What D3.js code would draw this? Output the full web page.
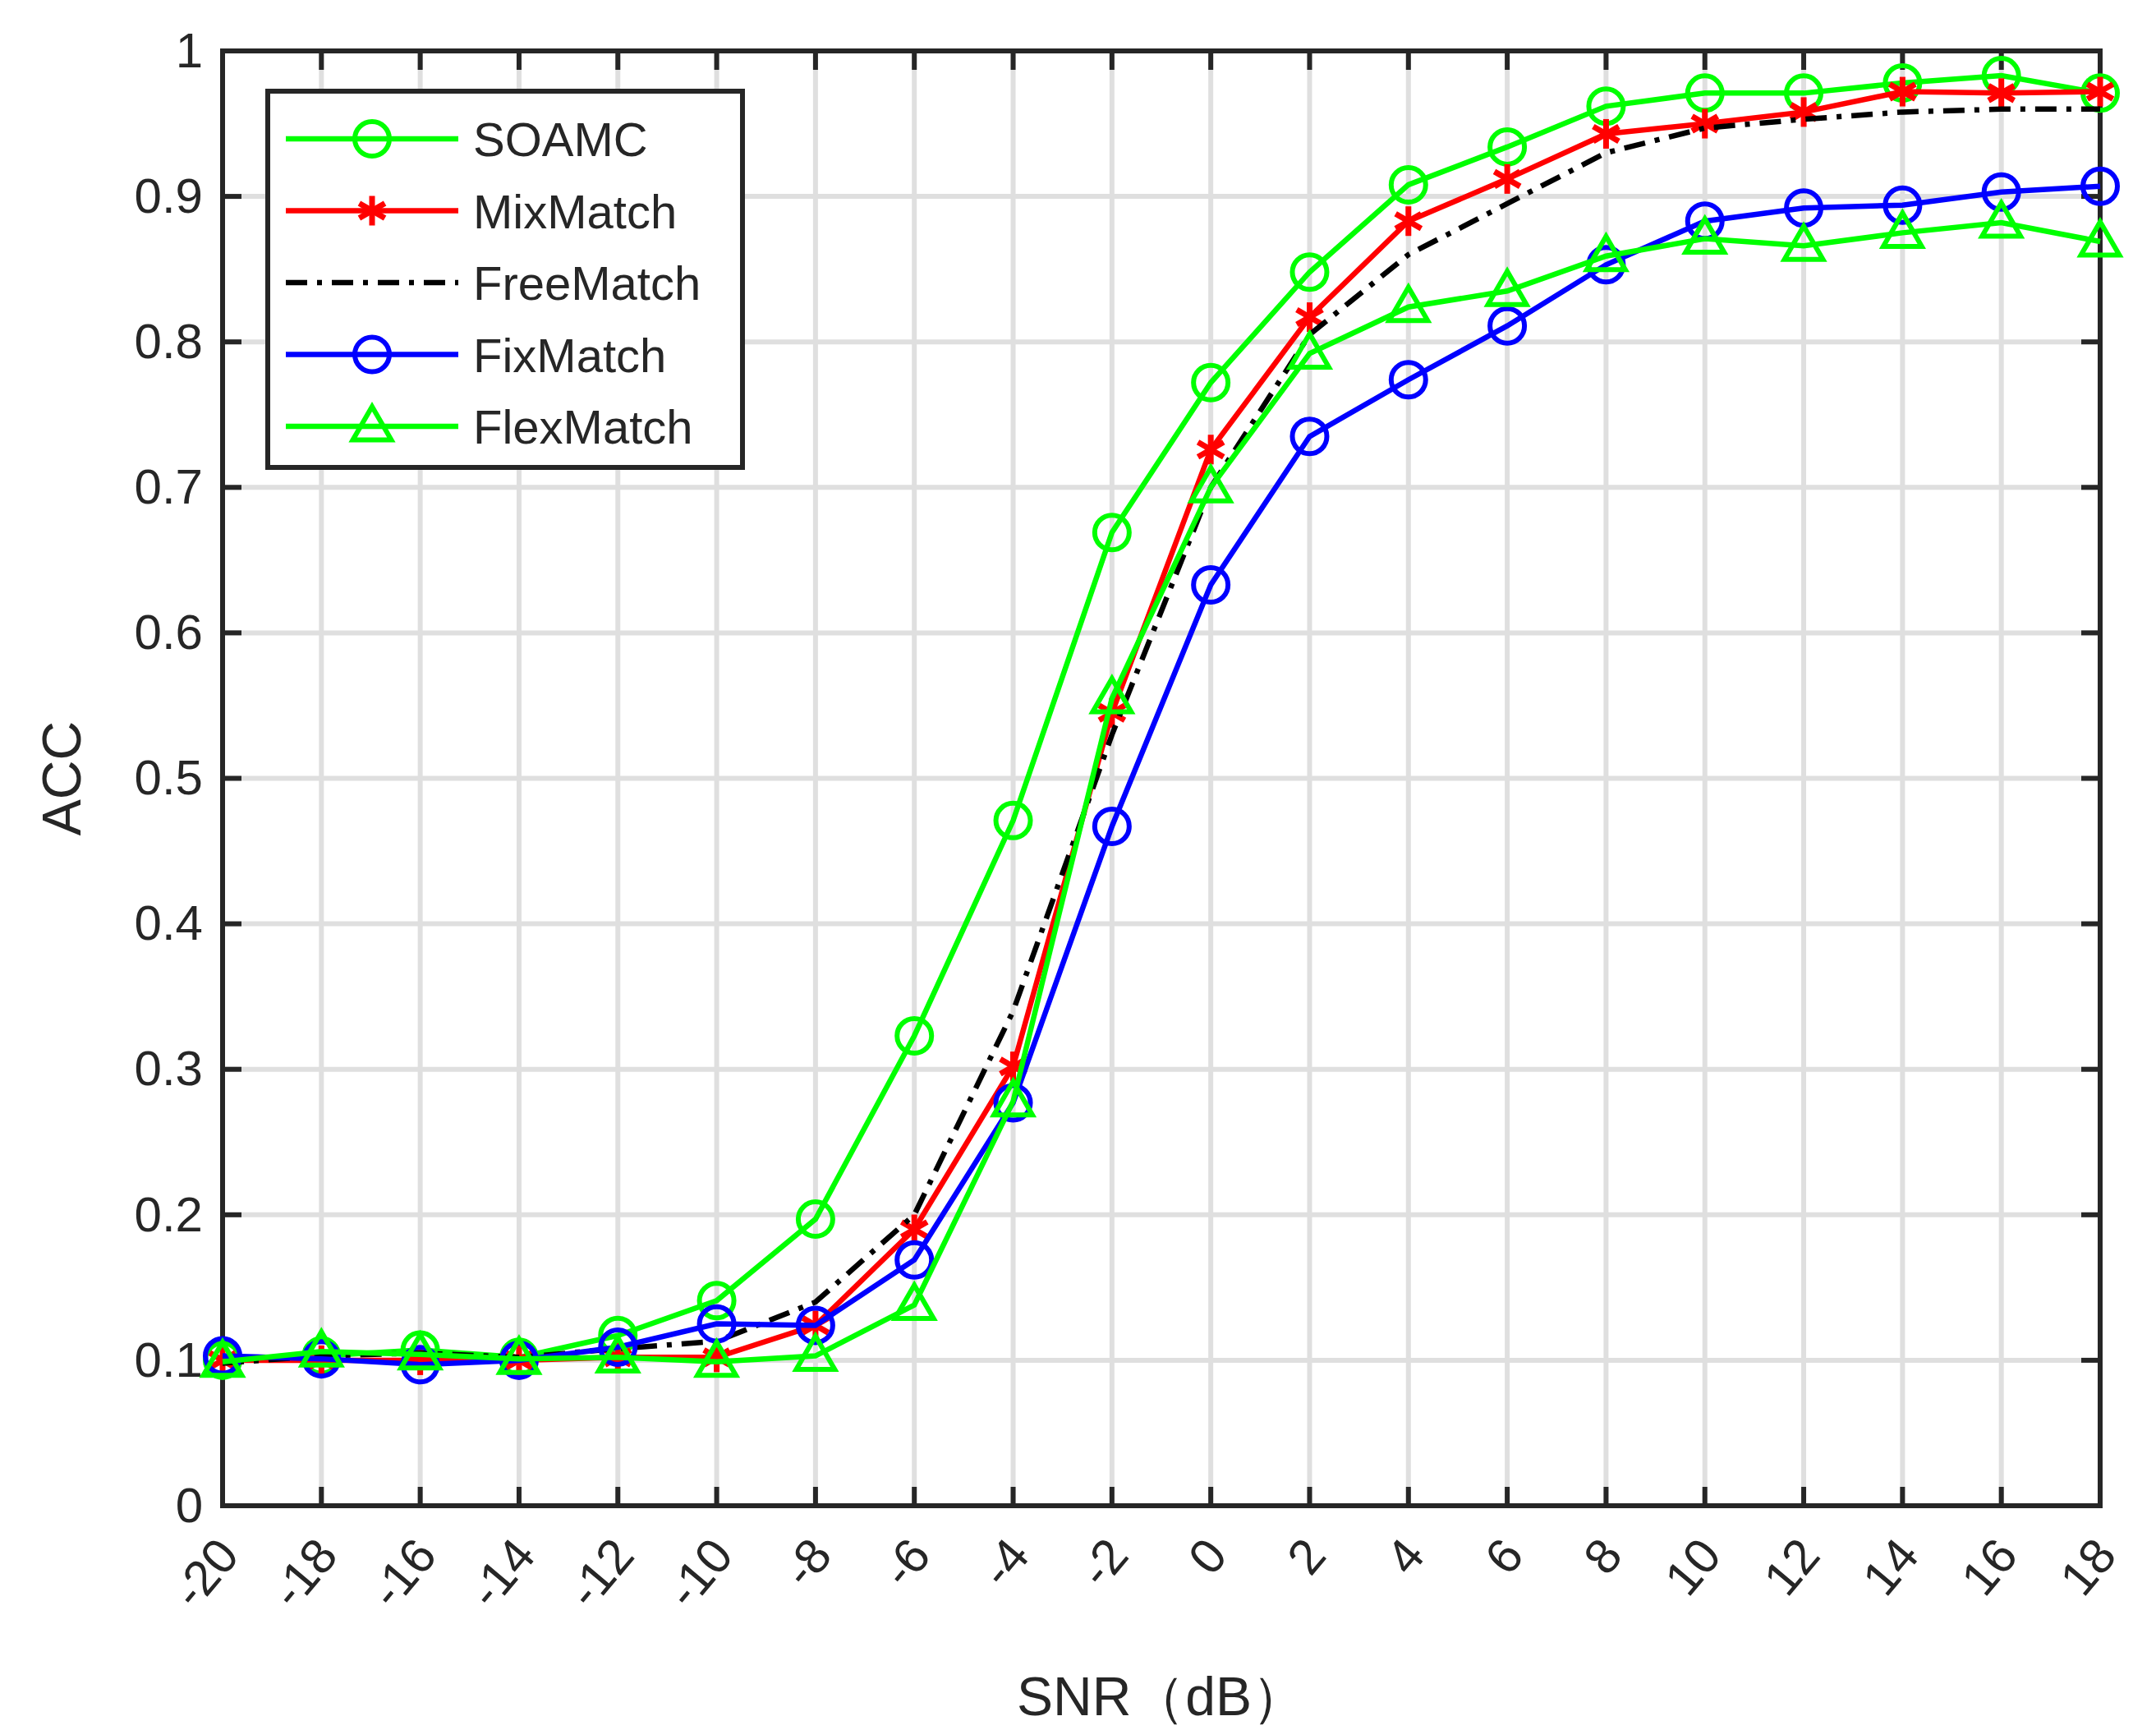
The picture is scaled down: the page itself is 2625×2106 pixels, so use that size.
<!DOCTYPE html>
<html><head><meta charset="utf-8">
<script src="https://cdn.jsdelivr.net/npm/d3@7"></script>
<style>body{margin:0;background:#fff}text{font-family:"Liberation Sans",Arial,sans-serif;fill:#262626}</style>
</head><body>
<svg id="c" width="2625" height="2106"></svg>
<script>
var snr = [-20,-18,-16,-14,-12,-10,-8,-6,-4,-2,0,2,4,6,8,10,12,14,16,18]
var soamc = [0.100,0.103,0.107,0.102,0.117,0.141,0.197,0.323,0.471,0.669,0.772,0.848,0.908,0.934,0.962,0.971,0.971,0.978,0.983,0.971]
var mixmatch = [0.100,0.100,0.100,0.100,0.102,0.102,0.124,0.190,0.302,0.545,0.726,0.817,0.883,0.912,0.943,0.950,0.958,0.972,0.971,0.972]
var freematch = [0.098,0.103,0.105,0.102,0.108,0.113,0.140,0.200,0.340,0.530,0.700,0.805,0.860,0.895,0.930,0.947,0.953,0.958,0.960,0.960]
var fixmatch = [0.103,0.101,0.097,0.100,0.109,0.125,0.124,0.169,0.277,0.467,0.633,0.735,0.774,0.811,0.853,0.883,0.892,0.894,0.903,0.907]
var flexmatch = [0.099,0.106,0.104,0.101,0.102,0.099,0.103,0.138,0.278,0.555,0.700,0.792,0.824,0.835,0.859,0.871,0.866,0.875,0.882,0.869]
var yTicks = [0,0.1,0.2,0.3,0.4,0.5,0.6,0.7,0.8,0.9,1]

var series = [
  {name:'SOAMC', v:soamc, color:'#00ff00', marker:'circle'},
  {name:'MixMatch', v:mixmatch, color:'#ff0000', marker:'star'},
  {name:'FreeMatch', v:freematch, color:'#000000', marker:'none', dash:'26,12,6,12'},
  {name:'FixMatch', v:fixmatch, color:'#0000ff', marker:'circle'},
  {name:'FlexMatch', v:flexmatch, color:'#00ff00', marker:'triangle'}
]

var L = 271, R = 2557, T = 62, B = 1833
var svg = d3.select('#c')
var x = d3.scaleLinear().domain([-20,18]).range([L,R])
var y = d3.scaleLinear().domain([0,1]).range([B,T])

// grid
svg.append('g').selectAll('line').data(snr).enter().append('line')
  .attr('x1', d => x(d)).attr('x2', d => x(d)).attr('y1', T).attr('y2', B)
  .attr('stroke', '#dfdfdf').attr('stroke-width', 6)
svg.append('g').selectAll('line').data(yTicks).enter().append('line')
  .attr('y1', d => y(d)).attr('y2', d => y(d)).attr('x1', L).attr('x2', R)
  .attr('stroke', '#dfdfdf').attr('stroke-width', 6)

// axes
var ax = svg.append('g').attr('transform', 'translate(0,' + B + ')')
  .call(d3.axisBottom(x).tickValues(snr).tickFormat(String).tickSize(0).tickPadding(0))
ax.select('.domain').remove()
ax.selectAll('text').attr('font-size', 60).attr('text-anchor', 'end')
  .attr('dy', 0).attr('transform', 'translate(22,62) rotate(-50)')
var ay = svg.append('g').attr('transform', 'translate(' + L + ',0)')
  .call(d3.axisLeft(y).tickValues(yTicks).tickFormat(d3.format('')).tickSize(0).tickPadding(24))
ay.select('.domain').remove()
ay.selectAll('text').attr('font-size', 60)

// inner ticks
var tk = svg.append('g').attr('stroke', '#262626').attr('stroke-width', 6)
snr.forEach(function (d) {
  tk.append('line').attr('x1', x(d)).attr('x2', x(d)).attr('y1', B).attr('y2', B - 23)
  tk.append('line').attr('x1', x(d)).attr('x2', x(d)).attr('y1', T).attr('y2', T + 23)
})
yTicks.forEach(function (d) {
  tk.append('line').attr('y1', y(d)).attr('y2', y(d)).attr('x1', L).attr('x2', L + 23)
  tk.append('line').attr('y1', y(d)).attr('y2', y(d)).attr('x1', R).attr('x2', R - 23)
})
svg.append('rect').attr('x', L).attr('y', T).attr('width', R - L).attr('height', B - T)
  .attr('fill', 'none').attr('stroke', '#262626').attr('stroke-width', 6)

function drawMarker(g, type, cx, cy, color) {
  if (type === 'circle') {
    g.append('circle').attr('cx', cx).attr('cy', cy).attr('r', 21)
      .attr('fill', 'none').attr('stroke', color).attr('stroke-width', 6)
  } else if (type === 'triangle') {
    g.append('path').attr('d', d3.symbol(d3.symbolTriangle, 950)())
      .attr('transform', 'translate(' + cx + ',' + (cy + 3) + ')')
      .attr('fill', 'none').attr('stroke', color).attr('stroke-width', 6)
  } else if (type === 'star') {
    var r = 18
    ;[0, 60, 120].forEach(function (a) {
      var rad = (a + 90) * Math.PI / 180
      g.append('line').attr('x1', cx - r * Math.cos(rad)).attr('y1', cy - r * Math.sin(rad))
        .attr('x2', cx + r * Math.cos(rad)).attr('y2', cy + r * Math.sin(rad))
        .attr('stroke', color).attr('stroke-width', 7)
    })
  }
}

var line = d3.line().x((d, i) => x(snr[i])).y(d => y(d))
series.forEach(function (s) {
  var g = svg.append('g')
  g.append('path').attr('d', line(s.v)).attr('fill', 'none').attr('stroke', s.color)
    .attr('stroke-width', 6.5).attr('stroke-dasharray', s.dash || null)
  s.v.forEach(function (d, i) { drawMarker(g, s.marker, x(snr[i]), y(d), s.color) })
})

// labels
svg.append('text').attr('x', (L + R) / 2).attr('y', 2088).attr('text-anchor', 'middle')
  .attr('font-size', 66).text('SNR（dB）')
svg.append('text').attr('transform', 'translate(98,' + (T + B) / 2 + ') rotate(-90)')
  .attr('text-anchor', 'middle').attr('font-size', 66).text('ACC')

// legend
var lg = svg.append('g').attr('transform', 'translate(326,111)')
lg.append('rect').attr('width', 578).attr('height', 458).attr('fill', '#fff')
  .attr('stroke', '#262626').attr('stroke-width', 6)
series.forEach(function (s, i) {
  var cy = 58 + i * 87.5
  lg.append('line').attr('x1', 22).attr('x2', 232).attr('y1', cy).attr('y2', cy)
    .attr('stroke', s.color).attr('stroke-width', 6.5).attr('stroke-dasharray', s.dash || null)
  drawMarker(lg, s.marker, 127, cy, s.color)
  lg.append('text').attr('x', 250).attr('y', cy + 21).attr('font-size', 58).text(s.name)
})
</script>
</body></html>
